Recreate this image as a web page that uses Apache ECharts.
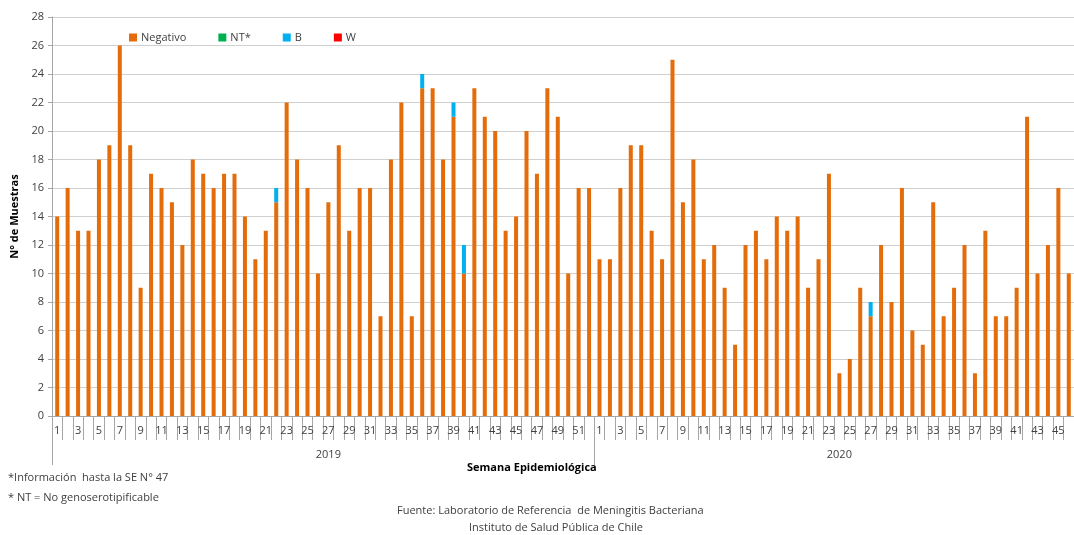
<!DOCTYPE html>
<html>
<head>
<meta charset="utf-8">
<script src="https://cdn.jsdelivr.net/npm/echarts@6/dist/echarts.min.js"></script>
<style>
  html, body { margin: 0; padding: 0; background: #fff; }
  #chart { width: 1074px; height: 535px; }
</style>
</head>
<body>
<div id="chart"></div>
<script>
// semanas epidemiologicas
const weeks2019 = [1,2,3,4,5,6,7,8,9,10,11,12,13,14,15,16,17,18,19,20,21,22,23,24,25,26,
  27,28,29,30,31,32,33,34,35,36,37,38,39,40,41,42,43,44,45,46,47,48,49,50,51,52]
const weeks2020 = [1,2,3,4,5,6,7,8,9,10,11,12,13,14,15,16,17,18,19,20,21,22,23,
  24,25,26,27,28,29,30,31,32,33,34,35,36,37,38,39,40,41,42,43,44,45,46]
const yearLabels = ['2019', '2020']

const negativo2019 = [14,16,13,13,18,19,26,19,9,17,16,15,12,18,17,16,17,17,14,11,13,15,22,18,16,10,
  15,19,13,16,16,7,18,22,7,23,23,18,21,10,23,21,20,13,14,20,17,23,21,10,16,16]
const negativo2020 = [11,11,16,19,19,13,11,25,15,18,11,12,9,5,12,13,11,14,13,14,9,11,17,
  3,4,9,7,12,8,16,6,5,15,7,9,12,3,13,7,7,9,21,10,12,16,10]
const b2019 = [0,0,0,0,0,0,0,0,0,0,0,0,0,0,0,0,0,0,0,0,0,1,0,0,0,0,
  0,0,0,0,0,0,0,0,0,1,0,0,1,2,0,0,0,0,0,0,0,0,0,0,0,0]
const b2020 = [0,0,0,0,0,0,0,0,0,0,0,0,0,0,0,0,0,0,0,0,0,0,0,
  0,0,0,1,0,0,0,0,0,0,0,0,0,0,0,0,0,0,0,0,0,0,0]
const nt = []
const w = []

const categories = weeks2019.concat(weeks2020)
const negativo = negativo2019.concat(negativo2020)
const serotipoB = b2019.concat(b2020)
const yearStart = [0, weeks2019.length]
const yearMid = [Math.floor(weeks2019.length / 2), weeks2019.length + Math.floor(weeks2020.length / 2)]

const font = '"Open Sans", "DejaVu Sans", sans-serif'
const txt = '#404040'
const axisGray = '#a6a6a6'

const chart = echarts.init(document.getElementById('chart'))

chart.setOption({
  animation: false,
  textStyle: { fontFamily: font },
  grid: { left: 52, right: -4, top: 17, bottom: 119 },
  legend: {
    top: 27,
    left: 124,
    itemWidth: 8,
    itemHeight: 8,
    itemGap: 32,
    icon: 'rect',
    textStyle: { fontFamily: font, fontSize: 11, color: txt, padding: [0, 0, 0, -1] },
    data: ['Negativo', 'NT*', 'B', 'W']
  },
  xAxis: [
    {
      type: 'category',
      data: categories,
      axisLine: { show: true, lineStyle: { color: axisGray } },
      axisTick: { show: true, interval: 0, length: 24, lineStyle: { color: axisGray } },
      axisLabel: { interval: 1, fontSize: 11, color: txt, margin: 9, fontFamily: font }
    },
    {
      type: 'category',
      data: categories,
      position: 'bottom',
      axisLine: { show: false },
      axisTick: {
        show: true,
        length: 49,
        interval: (i) => yearStart.includes(i),
        lineStyle: { color: axisGray }
      },
      axisLabel: {
        interval: (i) => yearMid.includes(i),
        formatter: (v, i) => yearLabels[yearMid.indexOf(i)] || '',
        fontSize: 11,
        color: txt,
        margin: 33,
        fontFamily: font
      }
    }
  ],
  yAxis: {
    type: 'value',
    min: 0,
    max: 28,
    interval: 2,
    name: 'N° de Muestras',
    nameLocation: 'middle',
    nameGap: 30,
    nameRotate: 90,
    nameTextStyle: { fontSize: 11, fontWeight: 'bold', color: '#000', fontFamily: font },
    axisLine: { show: true, lineStyle: { color: axisGray } },
    axisTick: { show: true, length: 4, lineStyle: { color: axisGray } },
    axisLabel: { fontSize: 11, color: txt, margin: 8, fontFamily: font },
    splitLine: { lineStyle: { color: '#d0d0d0', width: 1 } }
  },
  graphic: [
    { type: 'text', left: 467, top: 462, style: { text: 'Semana Epidemiológica', font: 'bold 11px ' + font, fill: '#000' } },
    { type: 'text', left: 8, top: 472, style: { text: '*Información  hasta la SE N° 47', font: '11px ' + font, fill: txt } },
    { type: 'text', left: 8, top: 492, style: { text: '* NT = No genoserotipificable', font: '11px ' + font, fill: txt } },
    { type: 'text', left: 397, top: 505, style: { text: 'Fuente: Laboratorio de Referencia  de Meningitis Bacteriana', font: '11px ' + font, fill: txt } },
    { type: 'text', left: 469, top: 522, style: { text: 'Instituto de Salud Pública de Chile', font: '11px ' + font, fill: txt } }
  ],
  series: [
    {
      name: 'Negativo', type: 'bar', stack: 'total', data: negativo, barWidth: 4,
      itemStyle: { color: '#e46c0a' }
    },
    {
      name: 'NT*', type: 'bar', stack: 'total', data: nt, barWidth: 4,
      itemStyle: { color: '#00b050' }
    },
    {
      name: 'B', type: 'bar', stack: 'total', data: serotipoB, barWidth: 4,
      itemStyle: { color: '#00b0f0' }
    },
    {
      name: 'W', type: 'bar', stack: 'total', data: w, barWidth: 4,
      itemStyle: { color: '#ff0000' }
    }
  ]
})
</script>
</body>
</html>
